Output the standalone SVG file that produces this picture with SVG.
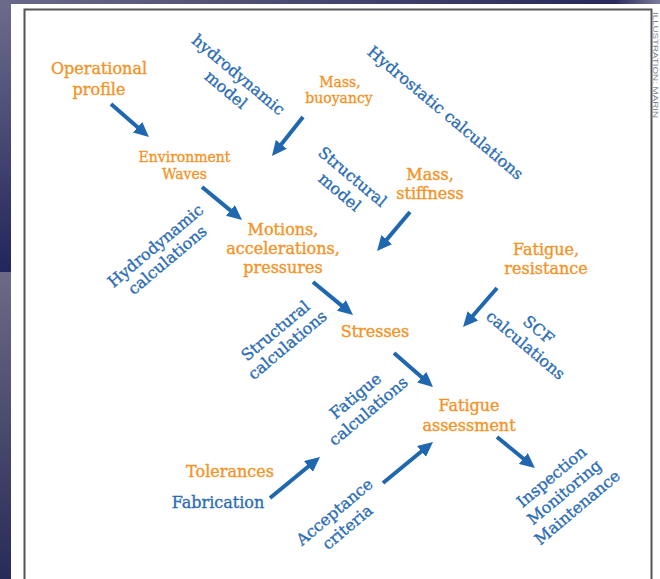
<svg xmlns="http://www.w3.org/2000/svg" width="660" height="579" viewBox="0 0 660 579">
  <defs>
    <linearGradient id="lg1" x1="0" y1="0" x2="0" y2="1">
      <stop offset="0" stop-color="#6e6c8c"/>
      <stop offset="1" stop-color="#22255a"/>
    </linearGradient>
    <linearGradient id="lg2" x1="0" y1="0" x2="0" y2="1">
      <stop offset="0" stop-color="#6d6a84"/>
      <stop offset="1" stop-color="#282b58"/>
    </linearGradient>
    <linearGradient id="lg3" x1="0" y1="0" x2="1" y2="0">
      <stop offset="0" stop-color="#6c6a8a"/>
      <stop offset="0.5" stop-color="#45466f"/>
      <stop offset="0.93" stop-color="#272a5a"/>
      <stop offset="1" stop-color="#7c7b9a"/>
    </linearGradient>
    <marker id="ah" markerUnits="userSpaceOnUse" markerWidth="15" markerHeight="14" viewBox="0 0 15 14" refX="5" refY="7" orient="auto">
      <path d="M0,0 L15,7 L0,14 z" fill="#1f68b0"/>
    </marker>
    <style>
      text { font-family: "DejaVu Serif", "Liberation Serif", serif; }
      .o { fill: #f39325; stroke: #f39325; stroke-width: 0.35px; font-size: 16px; text-anchor: middle; }
      .os { fill: #f39325; stroke: #f39325; stroke-width: 0.3px; font-size: 14px; text-anchor: middle; }
      .b { fill: #2c6db4; stroke: #2c6db4; stroke-width: 0.35px; font-size: 16px; text-anchor: middle; }
      .arr { stroke: #1f68b0; stroke-width: 4; fill: none; marker-end: url(#ah); }
      .credit { font-family: "Liberation Sans", sans-serif; font-size: 8px; fill: #7f7f99; }
    </style>
  </defs>

  <!-- background -->
  <rect x="0" y="0" width="660" height="579" fill="#ffffff"/>
  <rect x="0" y="0" width="11" height="272" fill="url(#lg1)"/>
  <rect x="0" y="272" width="11" height="307" fill="url(#lg2)"/>
  <rect x="0" y="0" width="660" height="4" fill="url(#lg3)"/>
  <rect x="24.5" y="9.5" width="627" height="580" fill="none" stroke="#555555" stroke-width="2"/>
  <text class="credit" transform="translate(653,12) rotate(90)" textLength="106" lengthAdjust="spacingAndGlyphs">ILLUSTRATION: MARIN</text>

  <!-- nodes -->
  <g id="operational-profile">
    <text class="o" x="99" y="74">Operational</text>
    <text class="o" x="99" y="95">profile</text>
  </g>
  <g id="environment-waves">
    <text class="os" x="184.5" y="162">Environment</text>
    <text class="os" x="184.5" y="179">Waves</text>
  </g>
  <g id="hydrodynamic-model">
    <g transform="translate(235,79) rotate(40)">
      <text class="b" x="0" y="0">hydrodynamic</text>
      <text class="b" x="0" y="19.5">model</text>
    </g>
  </g>
  <g id="mass-buoyancy">
    <text class="os" x="340" y="87">Mass,</text>
    <text class="os" x="339" y="103">buoyancy</text>
  </g>
  <g id="hydrostatic-calculations">
    <text class="b" transform="translate(442,117) rotate(40)">Hydrostatic calculations</text>
  </g>
  <g id="structural-model">
    <g transform="translate(349,181) rotate(40)">
      <text class="b" x="0" y="0">Structural</text>
      <text class="b" x="0" y="20">model</text>
    </g>
  </g>
  <g id="mass-stiffness">
    <text class="o" x="430" y="180">Mass,</text>
    <text class="o" x="430" y="199">stiffness</text>
  </g>
  <g id="hydrodynamic-calculations">
    <g transform="translate(159,250) rotate(-40)">
      <text class="b" x="0" y="0">Hydrodynamic</text>
      <text class="b" x="0" y="18.5">calculations</text>
    </g>
  </g>
  <g id="motions">
    <text class="o" x="283" y="235">Motions,</text>
    <text class="o" x="283" y="254">accelerations,</text>
    <text class="o" x="283" y="273">pressures</text>
  </g>
  <g id="fatigue-resistance">
    <text class="o" x="546" y="255">Fatigue,</text>
    <text class="o" x="546" y="274">resistance</text>
  </g>
  <g id="structural-calculations">
    <g transform="translate(279,335) rotate(-40)">
      <text class="b" x="0" y="0">Structural</text>
      <text class="b" x="0" y="18.5">calculations</text>
    </g>
  </g>
  <g id="stresses">
    <text class="o" x="375" y="337">Stresses</text>
  </g>
  <g id="scf-calculations">
    <g transform="translate(535,334) rotate(40)">
      <text class="b" x="0" y="0">SCF</text>
      <text class="b" x="0" y="20">calculations</text>
    </g>
  </g>
  <g id="fatigue-calculations">
    <g transform="translate(359,400) rotate(-40)">
      <text class="b" x="0" y="0">Fatigue</text>
      <text class="b" x="0" y="20">calculations</text>
    </g>
  </g>
  <g id="fatigue-assessment">
    <text class="o" x="469" y="410.5">Fatigue</text>
    <text class="o" x="469" y="430.5">assessment</text>
  </g>
  <g id="tolerances">
    <text class="o" x="230" y="476.5">Tolerances</text>
  </g>
  <g id="fabrication">
    <text class="b" x="218" y="507.5">Fabrication</text>
  </g>
  <g id="acceptance-criteria">
    <g transform="translate(338,516) rotate(-40)">
      <text class="b" x="0" y="0">Acceptance</text>
      <text class="b" x="0" y="20">criteria</text>
    </g>
  </g>
  <g id="inspection">
    <g transform="translate(555,481) rotate(-40)">
      <text class="b" x="0" y="0">Inspection</text>
      <text class="b" x="0" y="20">Monitoring</text>
      <text class="b" x="0" y="40">Maintenance</text>
    </g>
  </g>

  <!-- connectors -->
  <g id="connectors">
    <line class="arr" x1="111" y1="104" x2="141.4" y2="130.4"/>
    <line class="arr" x1="202" y1="187" x2="234.3" y2="213.6"/>
    <line class="arr" x1="303" y1="117" x2="278.2" y2="148.2"/>
    <line class="arr" x1="410" y1="212" x2="383.5" y2="243.4"/>
    <line class="arr" x1="313" y1="282" x2="345.3" y2="308.6"/>
    <line class="arr" x1="497" y1="288" x2="469.6" y2="319.5"/>
    <line class="arr" x1="394" y1="353" x2="425.5" y2="380.4"/>
    <line class="arr" x1="270" y1="498" x2="312.3" y2="463.3"/>
    <line class="arr" x1="383" y1="483" x2="425.3" y2="448.3"/>
    <line class="arr" x1="497" y1="437" x2="527.2" y2="461.7"/>
  </g>
</svg>
